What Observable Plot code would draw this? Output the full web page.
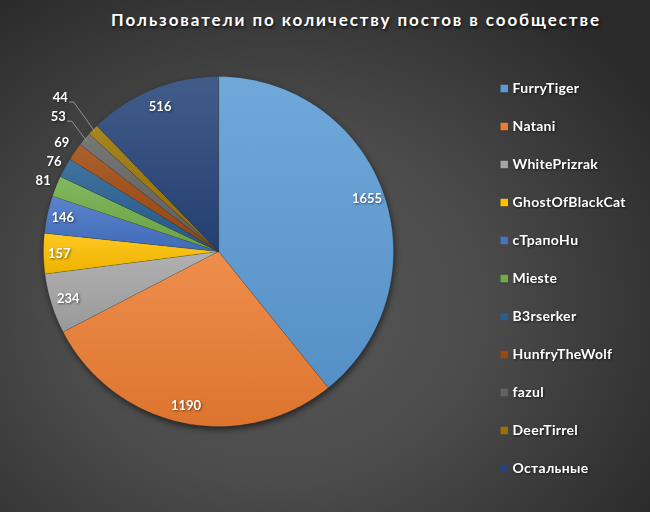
<!DOCTYPE html>
<html><head><meta charset="utf-8">
<script src="https://cdn.jsdelivr.net/npm/d3@7"></script>
<script src="https://cdn.jsdelivr.net/npm/@observablehq/plot@0.6"></script>
<style>
html,body{margin:0;padding:0;background:#333;}
#chart{position:relative;width:650px;height:512px;overflow:hidden;
  background:radial-gradient(ellipse 70% 75% at 42% 60%, #585858 0%, #4c4c4c 45%, #2a2a2a 100%);
  font-family:Lato, "Open Sans", sans-serif;}
#title{position:absolute;left:0;top:9px;width:650px;padding-left:62px;box-sizing:border-box;text-align:center;
  color:#fff;font-weight:bold;font-size:17px;letter-spacing:1.9px;text-shadow:1px 2px 3px rgba(0,0,0,0.7);white-space:nowrap;}
#pie{position:absolute;left:0;top:0;}
#legend{position:absolute;left:488px;top:66px;}
svg text{font-family:Lato, "Open Sans", sans-serif;}
</style>
</head><body>
<div id="chart"><div id="pie"></div><div id="legend"></div><div id="title"></div></div>
<script>
const titleText = "Пользователи по количеству постов в сообществе";
const names = ["FurryTiger","Natani","WhitePrizrak","GhostOfBlackCat","cТрапоНu","Mieste","B3rserker","HunfryTheWolf","fazul","DeerTirrel","Остальные"];
const posts = [1655,1190,234,157,146,81,76,69,53,44,516];
const baseColors = ["#5B9BD5","#ED7D31","#A5A5A5","#FFC000","#4472C4","#70AD47","#255E91","#9E480E","#636363","#997300","#264478"];

// layout (styling) for data labels: radius as fraction of pie radius
const labelRadius = [0.9,0.9,0.9,0.91,0.91,1.08,1.07,1.09,1.195,1.26,0.89];
const leaderFor = [false,false,false,false,false,false,false,false,true,true,false];
const R = 175; // pie radius in px

document.getElementById("title").textContent = titleText;

const arcs = d3.pie().sort(null).value(d => d)(posts);
const slicePts = [];
arcs.forEach((p, i) => {
  const n = Math.max(2, Math.ceil((p.endAngle - p.startAngle) / (Math.PI / 180)));
  slicePts.push({name: names[i], i, x: 0, y: 0});
  for (let k = 0; k <= n; k++) {
    const a = p.startAngle + (p.endAngle - p.startAngle) * k / n;
    slicePts.push({name: names[i], i, x: Math.sin(a), y: Math.cos(a)});
  }
});
const labels = arcs.map((p, i) => {
  const m = (p.startAngle + p.endAngle) / 2;
  return {text: String(posts[i]), x: labelRadius[i] * Math.sin(m), y: labelRadius[i] * Math.cos(m)};
});
const leaders = [];
arcs.forEach((p, i) => {
  if (!leaderFor[i]) return;
  const m = (p.startAngle + p.endAngle) / 2;
  const lx = labelRadius[i] * Math.sin(m), ly = labelRadius[i] * Math.cos(m);
  leaders.push({k: i, x: lx + 9 / R, y: ly - 4 / R});
  leaders.push({k: i, x: lx + 13.5 / R, y: ly - 4 / R});
  leaders.push({k: i, x: 0.985 * Math.sin(m), y: 0.985 * Math.cos(m)});
});

const cx = 218, cy = 251;
const pie = Plot.plot({
  width: 650, height: 512, margin: 0,
  style: {background: "transparent", overflow: "visible"},
  x: {domain: [-1, 1], range: [cx - R, cx + R], axis: null},
  y: {domain: [-1, 1], range: [cy + R, cy - R], axis: null},
  color: {type: "identity"},
  marks: [
    Plot.line(slicePts, {x: "x", y: "y", z: "name", fill: d => `url(#grad${d.i})`, stroke: "rgba(40,40,40,0.35)", strokeWidth: 0.6, curve: "linear-closed"}),
    Plot.line(leaders, {x: "x", y: "y", z: "k", stroke: "#a6a6a6", strokeWidth: 0.8}),
    Plot.text(labels, {x: "x", y: "y", text: "text", fill: "#fff", fontSize: 13, fontWeight: "bold"})
  ]
});
// gradients
const ns = "http://www.w3.org/2000/svg";
const defs = document.createElementNS(ns, "defs");
baseColors.forEach((c, i) => {
  const g = document.createElementNS(ns, "linearGradient");
  g.setAttribute("id", "grad" + i);
  g.setAttribute("x1", "0"); g.setAttribute("y1", "0"); g.setAttribute("x2", "0"); g.setAttribute("y2", "1");
  const top = d3.interpolateRgb(c, "#ffffff")(0.13);
  const bot = d3.interpolateRgb(c, "#000000")(0.07);
  [[0, top], [1, bot]].forEach(([o, col]) => {
    const s = document.createElementNS(ns, "stop");
    s.setAttribute("offset", o); s.setAttribute("stop-color", col);
    g.appendChild(s);
  });
  defs.appendChild(g);
});
pie.insertBefore(defs, pie.firstChild);
const gs = pie.querySelectorAll("g[aria-label='line']");
if (gs[0]) gs[0].style.filter = "drop-shadow(1px 3px 3px rgba(0,0,0,0.55))";
pie.querySelectorAll("g[aria-label='text']").forEach(g => g.style.filter = "drop-shadow(1px 1px 1px rgba(0,0,0,0.5))");
document.getElementById("pie").appendChild(pie);

const legend = Plot.plot({
  width: 162, height: 425, margin: 0,
  style: {background: "transparent", overflow: "visible"},
  y: {type: "point", domain: names, range: [20, 404], padding: 0, axis: null},
  marks: [
    Plot.dot(names, {y: d => d, frameAnchor: "left", dx: 15.75, symbol: "square", r: 4.2, fill: (d, i) => baseColors[i], stroke: "none"}),
    Plot.text(names, {y: d => d, frameAnchor: "left", dx: 24, text: d => d, textAnchor: "start", fill: "#fff", fontSize: 14, fontWeight: "bold"})
  ]
});
legend.querySelectorAll("g[aria-label='text']").forEach(g => { g.style.filter = "drop-shadow(1px 1px 1px rgba(0,0,0,0.6))"; g.style.letterSpacing = "0.3px"; });
document.getElementById("legend").appendChild(legend);
</script>
</body></html>
